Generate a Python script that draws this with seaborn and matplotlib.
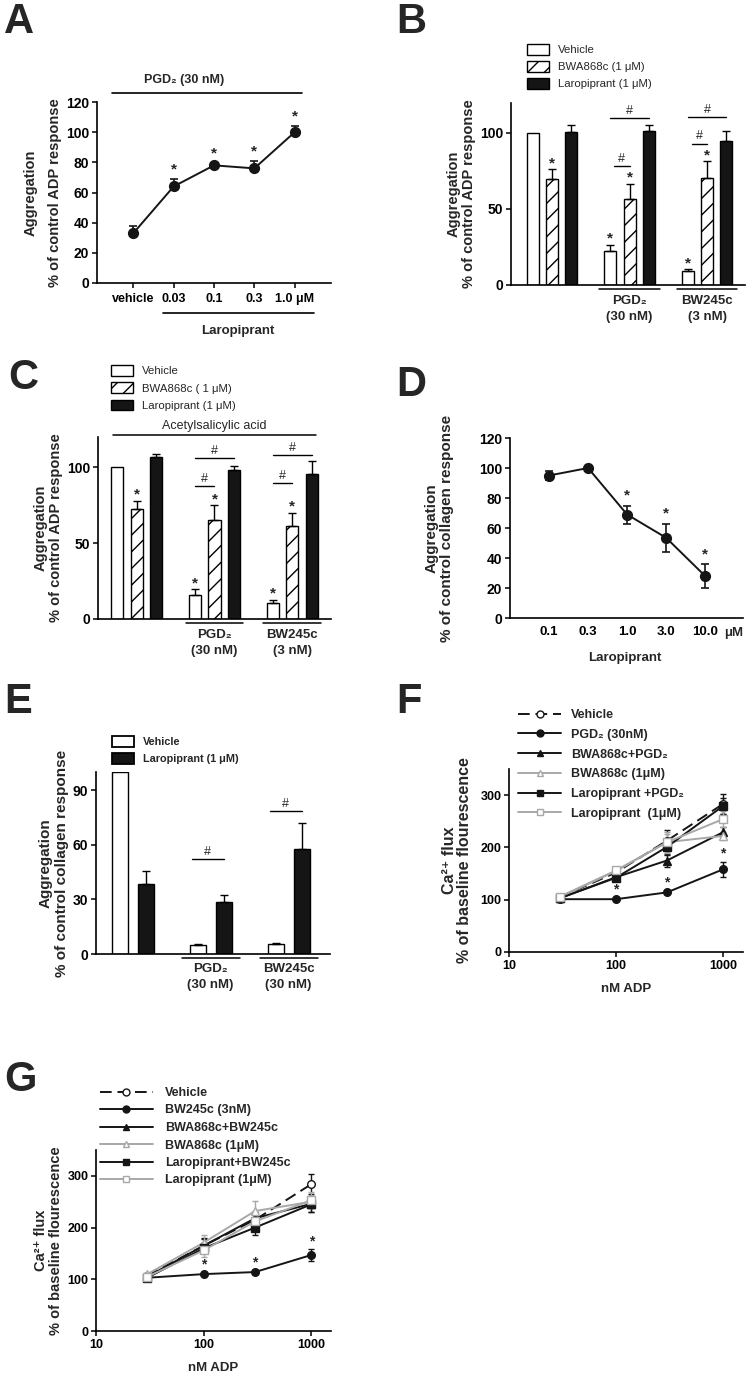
import numpy as np
import pandas as pd
import matplotlib
matplotlib.use("Agg")
import matplotlib.pyplot as plt
from matplotlib.patches import Patch
from matplotlib.lines import Line2D
from matplotlib.ticker import NullLocator, FixedLocator
import seaborn as sns

sns.set_theme(style="ticks")
plt.rcParams["font.family"] = ["Liberation Sans", "DejaVu Sans"]
plt.rcParams["font.weight"] = "bold"
plt.rcParams["axes.labelweight"] = "bold"
plt.rcParams["hatch.linewidth"] = 1.0
plt.rcParams["axes.edgecolor"] = "black"

# ---------------- data ----------------
# Panel A
a_cats = ["vehicle", "0.03", "0.1", "0.3", "1.0 μM"]
a_mean = [33, 64, 78, 76, 100]
a_sem = [5, 5, 1.5, 5, 4]
a_star = [False, True, True, True, True]

# Panel B
bar_groups = ["Control", "PGD2", "BW245c"]
b_treat = ["Vehicle", "BWA868c (1 μM)", "Laropiprant (1 μM)"]
b_vehicle = [100, 22.5, 9]
b_bwa = [70, 56.5, 70.5]
b_laro = [100.5, 101.5, 94.5]
b_vehicle_err = [0, 4, 1.2]
b_bwa_err = [6, 10, 11]
b_laro_err = [5, 4, 7]
b_group_labels = ["", "PGD₂\n(30 nM)", "BW245c\n(3 nM)"]

# Panel C (with acetylsalicylic acid)
c_treat = ["Vehicle", "BWA868c ( 1 μM)", "Laropiprant (1 μM)"]
c_vehicle = [100, 15.5, 10.5]
c_bwa = [72.5, 65, 61]
c_laro = [106.5, 98, 95.5]
c_vehicle_err = [0, 4, 2]
c_bwa_err = [5.5, 10, 9]
c_laro_err = [2, 3, 9]
c_group_labels = ["", "PGD₂\n(30 nM)", "BW245c\n(3 nM)"]

# Panel D
d_cats = ["0.1", "0.3", "1.0", "3.0", "10.0"]
d_mean = [95, 100, 69, 53.5, 28]
d_sem = [3, 1.5, 6, 9.5, 8]
d_star = [False, False, True, True, True]

# Panel E
e_treat = ["Vehicle", "Laropiprant (1 μM)"]
e_vehicle = [100, 5, 5.5]
e_laro = [38.5, 28.3, 57.8]
e_vehicle_err = [0, 0.6, 0.8]
e_laro_err = [7.3, 4, 14.4]
e_group_labels = ["", "PGD₂\n(30 nM)", "BW245c\n(30 nM)"]

# Panel F (Ca2+ flux, PGD2)
adp = [30, 100, 300, 1000]
f_labels = ["Vehicle", "PGD₂ (30nM)", "BWA868c+PGD₂", "BWA868c (1μM)",
            "Laropiprant +PGD₂", "Laropiprant  (1μM)"]
f_vehicle = [105, 152, 213, 283]
f_pgd2 = [101, 101, 114, 158]
f_bwa_pgd2 = [103, 143, 175, 229]
f_bwa = [105, 155, 210, 222]
f_laro_pgd2 = [103, 142, 201, 279]
f_laro = [106, 156, 210, 254]
f_vehicle_err = [3, 5, 20, 20]
f_pgd2_err = [2, 3, 4, 14]
f_bwa_pgd2_err = [3, 5, 12, 10]
f_bwa_err = [3, 5, 15, 8]
f_laro_pgd2_err = [3, 5, 15, 15]
f_laro_err = [3, 5, 20, 15]
f_star = [False, True, True, True]

# Panel G (Ca2+ flux, BW245c)
g_labels = ["Vehicle", "BW245c (3nM)", "BWA868c+BW245c", "BWA868c (1μM)",
            "Laropiprant+BW245c", "Laropiprant (1μM)"]
g_vehicle = [107, 165, 215, 284]
g_bw = [103, 110, 114, 147]
g_bwa_bw = [105, 165, 218, 246]
g_bwa = [110, 171, 232, 250]
g_laro_bw = [103, 160, 200, 245]
g_laro = [105, 156, 212, 253]
g_vehicle_err = [3, 15, 15, 20]
g_bw_err = [2, 3, 3, 11]
g_bwa_bw_err = [3, 12, 12, 15]
g_bwa_err = [3, 15, 20, 12]
g_laro_bw_err = [3, 10, 15, 15]
g_laro_err = [3, 12, 15, 15]
g_star = [False, True, True, True]

# ---------------- figure ----------------
W, H = 751, 1379
fig = plt.figure(figsize=(W / 100, H / 100), dpi=100)
fig.patch.set_facecolor("white")
BLK = "#151515"
GRY = "#a8a8a8"
TICK_FS = 10
XT_FS = 9
HATCH = "//"


def add_ax(l, t, r, b):
    return fig.add_axes([l / W, 1 - b / H, (r - l) / W, (b - t) / H])


def style_ax(ax):
    sns.despine(ax=ax)
    for s in ["left", "bottom"]:
        ax.spines[s].set_linewidth(1.2)
        ax.spines[s].set_color("black")
    ax.tick_params(axis="both", direction="out", length=3.5, width=1.1,
                   color="black", labelcolor="black", pad=2,
                   labelsize=TICK_FS)
    ax.set_facecolor("none")
    ax.grid(False)


def letter(x, y, s):
    fig.text(x / W, 1 - y / H, s, fontsize=30, weight="bold", va="top", ha="left")


def bar_panel(ax, treat, vals, errs, colors, hatches, width, gap):
    rows = []
    for t, v in zip(treat, vals):
        for g, val in zip(bar_groups, v):
            rows.append(dict(group=g, treatment=t, value=val))
    df = pd.DataFrame(rows)
    sns.barplot(data=df, x="group", y="value", hue="treatment", order=bar_groups,
                hue_order=treat, palette=colors, width=width, gap=gap,
                errorbar=None, edgecolor="black", linewidth=1.0, saturation=1,
                legend=False, ax=ax)
    info = {}
    for cont, t, e, h in zip(ax.containers, treat, errs, hatches):
        xs = np.array([p.get_x() + p.get_width() / 2 for p in cont])
        hs = np.array([p.get_height() for p in cont])
        for p in cont:
            p.set_hatch(h)
        e = np.array(e, dtype=float)
        m = e > 0
        ax.errorbar(xs[m], hs[m], yerr=[np.zeros(m.sum()), e[m]], fmt="none",
                    ecolor="black", elinewidth=1.0, capsize=3, capthick=1.0, zorder=1)
        info[t] = (xs, hs + e)
    return info


def star(ax, x, y, dy=2.0, fs=11):
    ax.annotate("*", (x, y), xytext=(0, dy), textcoords="offset points",
                ha="center", va="baseline", fontsize=fs, weight="bold", annotation_clip=False)


def hash_mark(ax, x0, x1, y, fs=9):
    ax.plot([x0, x1], [y, y], color="black", lw=1.0, clip_on=False)
    ax.annotate("#", ((x0 + x1) / 2, y), xytext=(0, 3), textcoords="offset points",
                ha="center", va="baseline", fontsize=fs, weight="normal")


def group_labels(ax, labels, half, ypad, ytxt, fs=9.5):
    tr = ax.get_xaxis_transform()
    for i, lab in enumerate(labels):
        if not lab:
            continue
        ax.plot([i - half, i + half], [ypad, ypad], color="black", lw=1.1,
                transform=tr, clip_on=False)
        ax.text(i, ytxt, lab, transform=tr, ha="center", va="top", fontsize=fs,
                weight="bold", linespacing=1.4)


# ---------------- Panel A ----------------
axA = add_ax(97, 102, 331, 283)
sns.pointplot(x=a_cats, y=a_mean, order=a_cats, color=BLK, markers="o",
              markersize=7, linewidth=1.4, errorbar=None, ax=axA)
axA.errorbar(np.arange(len(a_cats)), a_mean, yerr=[np.zeros(len(a_sem)), a_sem],
             fmt="none", ecolor=BLK, elinewidth=1.2, capsize=3, capthick=1.2, zorder=1)
axA.set_ylim(0, 120)
axA.set_xlim(-0.9, 4.9)
axA.set_yticks(range(0, 121, 20))
style_ax(axA)
axA.tick_params(axis="x", labelsize=XT_FS, pad=4)
axA.set_xlabel("")
axA.set_ylabel("Aggregation\n% of control ADP response", fontsize=10.5,
               linespacing=1.9, labelpad=3)
for i, (m, s, f) in enumerate(zip(a_mean, a_sem, a_star)):
    if f:
        star(axA, i, m + s, dy=4)
trA = axA.get_xaxis_transform()
axA.plot([-0.54, 4.17], [1.05, 1.05], color="black", lw=1.2, transform=trA, clip_on=False)
axA.text(1.26, 1.12, "PGD₂ (30 nM)", transform=trA, ha="center", va="center", fontsize=9)
axA.plot([0.74, 4.47], [-0.166, -0.166], color="black", lw=1.2, transform=trA, clip_on=False)
axA.text(2.6, -0.265, "Laropiprant", transform=trA, ha="center", va="center", fontsize=9.5)
letter(4, 2, "A")

# ---------------- Panel B ----------------
axB = add_ax(511, 102.6, 745, 285)
infoB = bar_panel(axB, b_treat, [b_vehicle, b_bwa, b_laro],
                  [b_vehicle_err, b_bwa_err, b_laro_err],
                  ["white", "white", BLK], ["", HATCH, ""], 0.75, 0.38)
axB.set_ylim(0, 120)
axB.set_xlim(-0.53, 2.49)
axB.set_yticks([0, 50, 100])
style_ax(axB)
axB.set_xticks([])
axB.set_xlabel("")
axB.set_ylabel("Aggregation\n% of control ADP response", fontsize=10.5,
               linespacing=1.15, labelpad=3)
b_star_flags = {b_treat[0]: [False, True, True], b_treat[1]: [True, True, True],
                b_treat[2]: [False, False, False]}
for t in b_treat:
    xs, tops = infoB[t]
    for x, y, f in zip(xs, tops, b_star_flags[t]):
        if f:
            star(axB, x, y, dy=1.5)
vx, _ = infoB[b_treat[0]]
hx, _ = infoB[b_treat[1]]
lx, _ = infoB[b_treat[2]]
for g, (yo, yi) in zip([1, 2], [(110, 78), (110.5, 93)]):
    hash_mark(axB, vx[g], lx[g], yo)
    hash_mark(axB, vx[g] + 0.05, hx[g], yi)
group_labels(axB, b_group_labels, 0.39, -0.022, -0.055)
fig.legend([Patch(facecolor="white", edgecolor="black", lw=1.0),
            Patch(facecolor="white", edgecolor="black", hatch=HATCH, lw=1.0),
            Patch(facecolor=BLK, edgecolor="black", lw=1.0)], b_treat,
           loc="upper left", bbox_to_anchor=(527 / W, 1 - 44 / H), frameon=False,
           borderpad=0, borderaxespad=0, handlelength=1.95, handleheight=1.05,
           handletextpad=0.8, labelspacing=0.52, prop={"size": 8.2, "weight": "normal"})
letter(396, 2, "B")

# ---------------- Panel C ----------------
axC = add_ax(98, 437, 331, 619)
infoC = bar_panel(axC, c_treat, [c_vehicle, c_bwa, c_laro],
                  [c_vehicle_err, c_bwa_err, c_laro_err],
                  ["white", "white", BLK], ["", HATCH, ""], 0.75, 0.38)
axC.set_ylim(0, 120)
axC.set_xlim(-0.5, 2.5)
axC.set_yticks([0, 50, 100])
style_ax(axC)
axC.set_xticks([])
axC.set_xlabel("")
axC.set_ylabel("Aggregation\n% of control ADP response", fontsize=10.5,
               linespacing=1.15, labelpad=3)
for t in c_treat:
    xs, tops = infoC[t]
    flags = {c_treat[0]: [False, True, True], c_treat[1]: [True, True, True],
             c_treat[2]: [False, False, False]}[t]
    for x, y, f in zip(xs, tops, flags):
        if f:
            star(axC, x, y, dy=1.5)
vx, _ = infoC[c_treat[0]]
hx, _ = infoC[c_treat[1]]
lx, _ = infoC[c_treat[2]]
for g, (yo, yi) in zip([1, 2], [(106, 87.5), (108, 89.5)]):
    hash_mark(axC, vx[g], lx[g], yo)
    hash_mark(axC, vx[g], hx[g], yi)
trC = axC.get_xaxis_transform()
axC.plot([-0.31, 2.31], [1.011, 1.011], color="black", lw=1.1, transform=trC, clip_on=False)
axC.text(1.0, 1.06, "Acetylsalicylic acid", transform=trC, ha="center", va="center",
         fontsize=9, weight="normal")
group_labels(axC, c_group_labels, 0.37, -0.022, -0.055)
fig.legend([Patch(facecolor="white", edgecolor="black", lw=1.0),
            Patch(facecolor="white", edgecolor="black", hatch=HATCH, lw=1.0),
            Patch(facecolor=BLK, edgecolor="black", lw=1.0)], c_treat,
           loc="upper left", bbox_to_anchor=(111 / W, 1 - 365 / H), frameon=False,
           borderpad=0, borderaxespad=0, handlelength=1.95, handleheight=1.1,
           handletextpad=0.8, labelspacing=0.52, prop={"size": 8.2, "weight": "normal"})
letter(8, 358, "C")

# ---------------- Panel D ----------------
axD = add_ax(510, 438, 743, 618)
sns.pointplot(x=d_cats, y=d_mean, order=d_cats, color=BLK, markers="o",
              markersize=7, linewidth=1.4, errorbar=None, ax=axD)
axD.errorbar(np.arange(len(d_cats)), d_mean, yerr=d_sem, fmt="none", ecolor=BLK,
             elinewidth=1.2, capsize=3, capthick=1.2, zorder=1)
axD.set_ylim(0, 120)
axD.set_xlim(-1.0, 4.97)
axD.set_yticks(range(0, 121, 20))
style_ax(axD)
axD.tick_params(axis="x", labelsize=9.5, pad=6, length=0)
axD.set_xlabel("")
axD.set_ylabel("Aggregation\n% of control collagen response", fontsize=11,
               linespacing=1.15, labelpad=18)
for i, (m, s, f) in enumerate(zip(d_mean, d_sem, d_star)):
    if f:
        star(axD, i, m + s, dy=4)
trD = axD.get_xaxis_transform()
axD.text(4.72, -0.083, "μM", transform=trD, ha="center", va="center", fontsize=9.5)
axD.text(1.95, -0.222, "Laropiprant", transform=trD, ha="center", va="center", fontsize=9.5)
letter(396, 365, "D")

# ---------------- Panel E ----------------
axE = add_ax(96, 772, 330, 954)
infoE = bar_panel(axE, e_treat, [e_vehicle, e_laro], [e_vehicle_err, e_laro_err],
                  ["white", BLK], ["", ""], 0.667, 0.385)
axE.set_ylim(0, 100)
axE.set_xlim(-0.47, 2.53)
axE.set_yticks([0, 30, 60, 90])
style_ax(axE)
axE.set_xticks([])
axE.set_xlabel("")
axE.set_ylabel("Aggregation\n% of control collagen response", fontsize=11,
               linespacing=1.2, labelpad=3)
vx, _ = infoE[e_treat[0]]
lx, _ = infoE[e_treat[1]]
for g, yo in zip([1, 2], [52, 78.5]):
    hash_mark(axE, vx[g] - 0.07, lx[g], yo)
group_labels(axE, e_group_labels, 0.37, -0.022, -0.05)
fig.legend([Patch(facecolor="white", edgecolor="black", lw=1.3),
            Patch(facecolor=BLK, edgecolor="black", lw=1.3)], e_treat,
           loc="upper left", bbox_to_anchor=(112 / W, 1 - 736 / H), frameon=False,
           borderpad=0, borderaxespad=0, handlelength=2.05, handleheight=1.2,
           handletextpad=0.85, labelspacing=0.5, prop={"size": 7.8, "weight": "bold"})
letter(4, 682, "E")


# ---------------- Panels F & G ----------------
def ca_panel(ax, series, errs, labels, stars, styles):
    handles = []
    for vals, e, lab, (c, mk, mfc, ls) in zip(series, errs, labels, styles):
        ax.errorbar(adp, vals, yerr=e, fmt="none", ecolor=c, elinewidth=1.0,
                    capsize=2.5, capthick=1.0, zorder=1)
        sns.lineplot(x=adp, y=vals, ax=ax, color=c, marker=mk, markerfacecolor=mfc,
                     markeredgecolor=c, markeredgewidth=1.0, markersize=5.5,
                     linestyle=ls, linewidth=1.4, errorbar=None, legend=False)
        handles.append(Line2D([], [], color=c, marker=mk, markerfacecolor=mfc,
                              markeredgecolor=c, markeredgewidth=1.0, markersize=5,
                              linestyle=ls, linewidth=1.4))
    base = series[1]
    be = errs[1]
    for x, v, e, f in zip(adp, base, be, stars):
        if f:
            star(ax, x, v + e, dy=3, fs=10)
    ax.set_xscale("log")
    ax.set_ylim(0, 350)
    ax.set_yticks([0, 100, 200, 300])
    ax.xaxis.set_major_locator(FixedLocator([10, 100, 1000]))
    ax.set_xticklabels(["10", "100", "1000"])
    ax.xaxis.set_minor_locator(NullLocator())
    style_ax(ax)
    ax.tick_params(labelsize=9)
    ax.set_xlabel("nM ADP", fontsize=9.5, labelpad=8)
    return handles


styles = [(BLK, "o", "white", (0, (6, 3))), (BLK, "o", BLK, "-"), (BLK, "^", BLK, "-"),
          (GRY, "^", "white", "-"), (BLK, "s", BLK, "-"), (GRY, "s", "white", "-")]

axF = add_ax(509, 769, 743, 952)
hF = ca_panel(axF, [f_vehicle, f_pgd2, f_bwa_pgd2, f_bwa, f_laro_pgd2, f_laro],
              [f_vehicle_err, f_pgd2_err, f_bwa_pgd2_err, f_bwa_err, f_laro_pgd2_err, f_laro_err],
              f_labels, f_star, styles)
axF.set_xlim(10, 1540)
axF.set_ylabel("Ca²⁺ flux\n% of baseline flourescence", fontsize=11.5,
               linespacing=1.0, labelpad=6)
fig.legend(hF, f_labels, loc="upper left", bbox_to_anchor=(518 / W, 1 - 709 / H),
           frameon=False, borderpad=0, borderaxespad=0, handlelength=3.45,
           handletextpad=0.8, labelspacing=0.62, prop={"size": 9, "weight": "bold"})
letter(396, 682, "F")

axG = add_ax(96, 1150, 331, 1331)
hG = ca_panel(axG, [g_vehicle, g_bw, g_bwa_bw, g_bwa, g_laro_bw, g_laro],
              [g_vehicle_err, g_bw_err, g_bwa_bw_err, g_bwa_err, g_laro_bw_err, g_laro_err],
              g_labels, g_star, styles)
axG.set_xlim(10, 1520)
axG.set_ylabel("Ca²⁺ flux\n% of baseline flourescence", fontsize=10.5,
               linespacing=1.15, labelpad=3)
fig.legend(hG, g_labels, loc="upper left", bbox_to_anchor=(100 / W, 1 - 1087 / H),
           frameon=False, borderpad=0, borderaxespad=0, handlelength=4.2,
           handletextpad=1.0, labelspacing=0.44, prop={"size": 9, "weight": "bold"})
letter(4, 1060, "G")

fig.savefig("out.png", dpi=100, facecolor="white")
